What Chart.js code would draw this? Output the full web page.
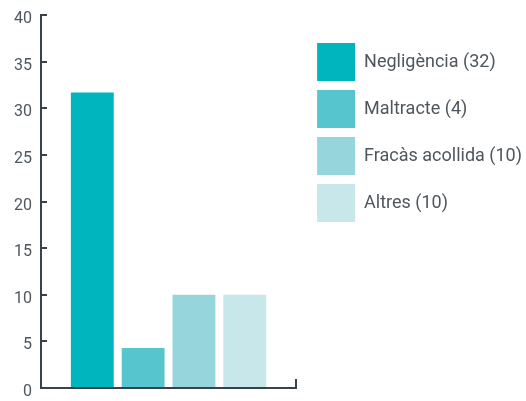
<!DOCTYPE html>
<html>
<head>
<meta charset="utf-8">
<script src="https://cdn.jsdelivr.net/npm/chart.js@4"></script>
<style>
  html, body { margin: 0; padding: 0; background: #fff; }
  #wrap { width: 526px; height: 401px; }
</style>
</head>
<body>
<div id="wrap"><canvas id="grafic"></canvas></div>
<script>
// -------- DADES --------
const categories = ["Negligència (32)", "Maltracte (4)", "Fracàs acollida (10)", "Altres (10)"];
const valors = [31.7, 4.3, 10, 10];
const colors = ["#00b5bd", "#57c5cd", "#96d5dc", "#c8e7ea"];
const yTicks = [0, 5, 10, 15, 20, 25, 30, 35, 40];

const axisColor = "#37424b";
const textColor = "#4f565d";

// un dataset per barra, així la llegenda surt sola
const datasets = categories.map((c, i) => ({
    label: c,
    data: [valors[i]],
    backgroundColor: colors[i],
    borderWidth: 0,
    categoryPercentage: 0.797,
    barPercentage: 0.843
}));

new Chart(document.getElementById("grafic"), {
    type: "bar",
    data: { labels: [""], datasets: datasets },
    options: {
        responsive: true,
        maintainAspectRatio: false,
        animation: false,
        layout: { padding: { top: 15, left: 0, right: -6, bottom: 0 } },
        plugins: {
            tooltip: { enabled: false },
            legend: {
                position: "right",
                align: "start",
                maxWidth: 260,
                // titol buit només per baixar la llegenda
                title: { display: true, text: " ", font: { size: 10, lineHeight: 1 }, padding: { top: 9, bottom: 0 } },
                labels: {
                    boxWidth: 38,
                    boxHeight: 38,
                    padding: 9,
                    color: textColor,
                    font: { family: "Roboto", size: 18 }
                }
            }
        },
        scales: {
            x: {
                grid: { display: true, drawOnChartArea: false, drawTicks: true, tickLength: -9, color: axisColor, lineWidth: 2, offset: true },
                border: { display: true, color: axisColor, width: 2 },
                ticks: { display: false },
                afterFit: s => { s.height = 13; s.paddingLeft = 0; s.paddingRight = 0; }
            },
            y: {
                min: 0,
                max: 40,
                afterBuildTicks: s => { s.ticks = yTicks.map(v => ({ value: v })); },
                grid: { display: true, drawOnChartArea: false, drawTicks: true, tickLength: -6, color: axisColor, lineWidth: 2 },
                border: { display: true, color: axisColor, width: 2 },
                ticks: { padding: 15, labelOffset: 4, color: textColor, font: { family: "Roboto", size: 16 } },
                afterFit: s => { s.width = 41; s.paddingTop = 0; s.paddingBottom = 0; }
            },
            marge: {
                position: "right",
                display: true,
                grid: { display: false },
                border: { display: false },
                ticks: { display: false },
                afterFit: s => { s.width = 12; }
            }
        }
    }
});
</script>
</body>
</html>
